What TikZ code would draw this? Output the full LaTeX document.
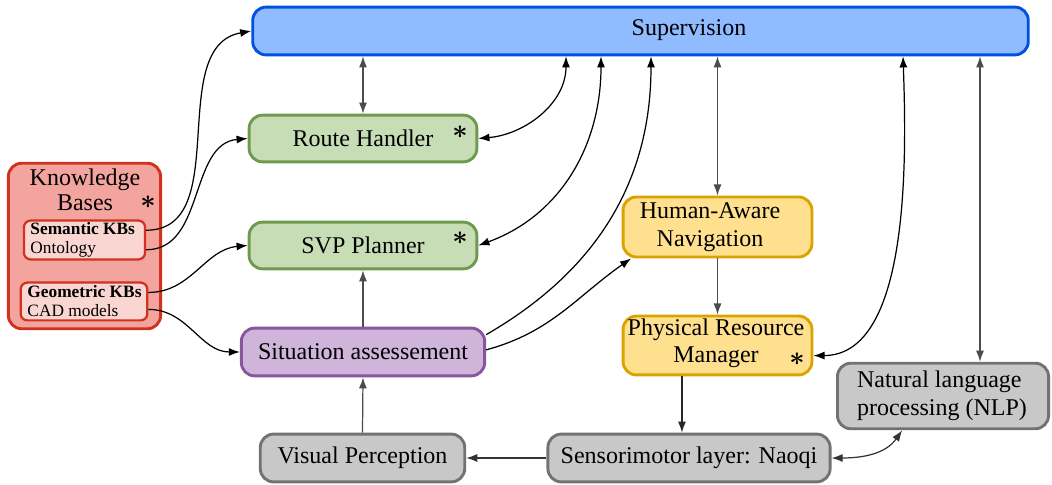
\documentclass[tikz,border=0pt]{standalone}
\usepackage{fontspec}
\setmainfont{Liberation Serif}
\usetikzlibrary{arrows.meta,calc}
\definecolor{supfill}{HTML}{90BCFF}
\definecolor{supdraw}{HTML}{0052DE}
\definecolor{grfill}{HTML}{C6DDB6}
\definecolor{grdraw}{HTML}{6E9A4E}
\definecolor{rdfill}{HTML}{F4A49E}
\definecolor{rddraw}{HTML}{D0321E}
\definecolor{rdin}{HTML}{F9D6D2}
\definecolor{pufill}{HTML}{D0B5DB}
\definecolor{pudraw}{HTML}{87569F}
\definecolor{yefill}{HTML}{FFE08F}
\definecolor{yedraw}{HTML}{D9A300}
\definecolor{gyfill}{HTML}{C8C8C8}
\definecolor{gydraw}{HTML}{727272}
\tikzset{
  every node/.style={font=\fontsize{10.8}{12.5}\selectfont},
  box/.style={draw, rounded corners=6pt, line width=1.3pt, align=center, inner sep=0pt},
  inbox/.style={draw=rddraw, fill=rdin, rounded corners=3pt, line width=1pt, inner sep=0pt},
  smalltext/.style={font=\fontsize{7.8}{8.6}\selectfont},
  conn/.style={line width=0.55pt, {Latex[length=5pt,width=3.6pt]}-{Latex[length=5pt,width=3.6pt]}},
  oneway/.style={line width=0.55pt, -{Latex[length=5pt,width=3.6pt]}},
  star/.style={inner sep=0pt, font=\large\boldmath},
}
\begin{document}
\begin{tikzpicture}[x=0.45pt,y=-0.45pt]
\useasboundingbox (0,0) rectangle (1052,485);
% nodes
\node[box, fill=supfill, draw=supdraw, minimum width=349pt, minimum height=21.5pt] (sup) at (640.5,31) {};
\node (suptext) at (689,30) {Supervision};
\node[box, fill=grfill, draw=grdraw, minimum width=102.5pt, minimum height=21pt] (rh) at (363,138.5) {Route Handler};
\node[box, fill=grfill, draw=grdraw, minimum width=102.5pt, minimum height=21pt] (svp) at (363,245.5) {SVP Planner};
\node[box, fill=rdfill, draw=rddraw, minimum width=68.5pt, minimum height=74.5pt] (kb) at (84.5,246) {};
\node[align=center, inner sep=0pt] (kbtext) at (85,190) {Knowledge\\[-1pt]Bases};
\node[inbox, minimum width=54.5pt, minimum height=17.5pt] (sem) at (84.5,240) {};
\node[anchor=west, align=left, inner sep=0pt, smalltext] (semtext) at (30,240) {\textbf{Semantic KBs}\\Ontology};
\node[inbox, minimum width=57pt, minimum height=17pt] (geo) at (84,301.5) {};
\node[anchor=west, align=left, inner sep=0pt, smalltext] (geotext) at (27,301.5) {\textbf{Geometric KBs}\\CAD models};
\node[box, fill=pufill, draw=pudraw, minimum width=109.5pt, minimum height=21.5pt] (sit) at (363,352) {Situation assessement};
\node[box, fill=yefill, draw=yedraw, minimum width=85pt, minimum height=27pt] (han) at (717.5,227) {};
\node[align=center, inner sep=0pt] (hantext) at (710,227) {Human-Aware\\Navigation};
\node[box, fill=yefill, draw=yedraw, minimum width=85pt, minimum height=26.5pt] (prm) at (717.5,345.5) {};
\node[inner sep=0pt, anchor=base] (prmtext1) at (716,336) {Physical Resource};
\node[inner sep=0pt, anchor=base] (prmtext2) at (716,363) {Manager};
\node[box, fill=gyfill, draw=gydraw, minimum width=95pt, minimum height=29.5pt] (nlp) at (943,396) {};
\node[align=left, inner sep=0pt] (nlptext) at (942,396) {Natural language\\processing (NLP)};
\node[box, fill=gyfill, draw=gydraw, minimum width=92pt, minimum height=21.5pt] (vp) at (362.5,458) {Visual Perception};
\node[box, fill=gyfill, draw=gydraw, minimum width=127pt, minimum height=21.5pt] (snm) at (689,458) {Sensorimotor layer: Naoqi};
% asterisks
\node[star] (s1) at (460,132) {$\ast$};
\node[star] (s2) at (460,238) {$\ast$};
\node[star] (s3) at (148,202) {$\ast$};
\node[star] (s4) at (797,359) {$\ast$};
% connectors
\draw[conn, draw=black!70] (sup.south -| rh.north) -- (rh.north);
\draw[conn] (rh.east) to[out=5,in=-90] (sup.south -| 566,0);
\draw[conn] (svp.east) to[out=20,in=-90] (sup.south -| 601,0);
\draw[oneway] (sit.8) to[out=30,in=-90] (sup.south -| 651,0);
\draw[oneway] (sit.1) to[out=15,in=215] (han.200);
\draw[conn, draw=black!70] (sup.south -| han.north) -- (han.north);
\draw[oneway, draw=black!70] (han.south) -- (prm.north);
\draw[conn] (sup.south -| 903,0) to[out=-88,in=0,looseness=0.8] (prm.-6);
\draw[conn, draw=black!70] (sup.south -| 980,0) -- (nlp.north -| 980,0);
\draw[conn, draw=black!80] (snm.east) to[out=0,in=-125] (nlp.220);
\draw[oneway, draw=black!85] ([xshift=-16pt]prm.south) -- ([xshift=-16pt]prm.south |- snm.north);
\draw[oneway, draw=black!80] (snm.west) -- (vp.east);
\draw[oneway, draw=black!70] (vp.north) -- (sit.south);
\draw[oneway, draw=black!70] (sit.north) -- (svp.south);
\draw[oneway] (sem.9) to[out=0,in=190] (sup.west);
\draw[oneway] (sem.-9) to[out=0,in=185] (rh.west);
\draw[oneway] (geo.8) to[out=0,in=185] (svp.west);
\draw[oneway] (geo.-7) to[out=0,in=180] (sit.west);
\end{tikzpicture}
\end{document}
